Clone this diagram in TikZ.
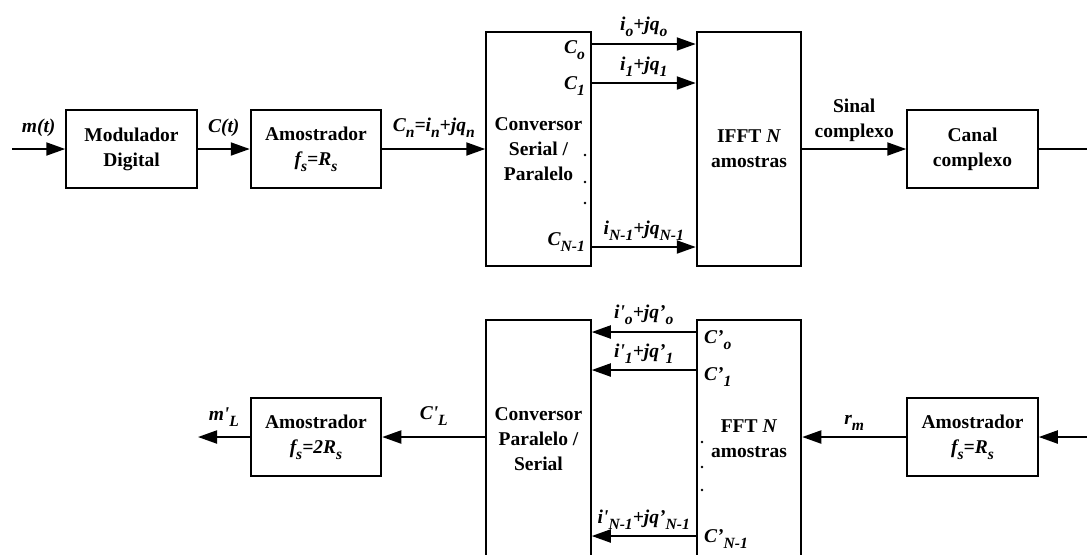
\documentclass[tikz,border=0pt]{standalone}
\usepackage{fontspec}
\setmainfont{Liberation Serif}
\usetikzlibrary{positioning, arrows.meta}
\newcommand{\subx}[1]{\raisebox{-3pt}{\fontsize{7.8}{8}\selectfont #1}}
\newcommand{\prm}{\textquotesingle}

\begin{document}
\begin{tikzpicture}[
    x=0.5pt, y=-0.5pt,
    node distance=26pt,
    font=\bfseries\fontsize{9.75}{12.5}\selectfont,
    block/.style={rectangle, draw=black, line width=1pt, minimum width=65.25pt, minimum height=39pt, align=center, inner sep=2pt},
    tall/.style={block, minimum width=52.25pt, minimum height=117pt},
    sig/.style={font=\bfseries\itshape\fontsize{9.75}{12.5}\selectfont, inner sep=2pt},
    arrow/.style={-{Triangle[length=9.5pt, width=6.5pt]}, line width=1pt},
    wire/.style={line width=1pt}
  ]

  \useasboundingbox (0,0) rectangle (1087,554);
  \clip (0,0) rectangle (1087,554);

  % --- TRANSMISSOR (TOP) ---
  \node[block] (mod_dig) at (131.5,149) {Modulador\\Digital};
  \node[block, right=26pt of mod_dig] (amos_tx) {Amostrador\\\textit{f\subx{s}=R\subx{s}}};
  \node[tall, right=51.5pt of amos_tx] (sp_conv) {Conversor\\Serial /\\Paralelo};
  \node[tall, right=52pt of sp_conv] (ifft) {IFFT \textit{N}\\amostras};
  \node[block, right=52pt of ifft] (canal) {Canal\\complexo};

  \coordinate (in_m) at (12,149);
  \coordinate (out_c) at (1092,149);

  \draw[arrow] (in_m) -- node[sig, above=3.5pt] (lbl_mt) {m(t)} (mod_dig);
  \draw[arrow] (mod_dig) -- node[sig, above=3.5pt] (lbl_ct) {C(t)} (amos_tx);
  \draw[arrow] (amos_tx) -- node[sig, above=3.5pt] (lbl_cn) {C\subx{n}=i\subx{n}+jq\subx{n}} (sp_conv.west |- amos_tx);
  \draw[arrow] (ifft) -- node[above, align=center, inner sep=3pt] (lbl_sc) {Sinal\\complexo} (canal);
  \draw[wire] (canal) -- (out_c);

  % parallel outputs
  \foreach \y/\txt [count=\k] in {44/{i\subx{o}+jq\subx{o}}, 83/{i\subx{1}+jq\subx{1}}, 247/{i\subx{N-1}+jq\subx{N-1}}}
    \draw[arrow] (sp_conv.east |- 0,\y) -- node[sig, above=1pt] (lbl_tx\k) {\txt} (ifft.west |- 0,\y);

  \node[sig, anchor=base east, inner sep=3.25pt] (lbl_co) at (sp_conv.east |- 0,53) {C\subx{o}};
  \node[sig, anchor=base east, inner sep=3.25pt] (lbl_c1) at (sp_conv.east |- 0,89) {C\subx{1}};
  \node[sig, anchor=base east, inner sep=3.25pt] (lbl_cn1) at (sp_conv.east |- 0,245) {C\subx{N-1}};
  \foreach \y in {155,182,203}
    \fill (585,\y) circle (1.4);

  % --- RECEPTOR (BOTTOM) ---
  \node[tall, minimum height=119pt, below=26pt of sp_conv] (ps_conv) {Conversor\\Paralelo /\\Serial};
  \node[tall, minimum height=119pt, right=52pt of ps_conv] (fft) {FFT \textit{N}\\amostras};
  \node[block] (amos_rx) at (canal |- 0,437) {Amostrador\\\textit{f\subx{s}=R\subx{s}}};
  \node[block] (amos_lo) at (amos_tx |- 0,437) {Amostrador\\\textit{f\subx{s}=2R\subx{s}}};

  \coordinate (in_r) at (1092,437);
  \coordinate (out_m) at (198,437);

  \draw[arrow] (in_r) -- (amos_rx);
  \draw[arrow] (amos_rx) -- node[sig, above=1pt] (lbl_rm) {r\subx{m}} (fft.east |- amos_rx);
  \draw[arrow] (ps_conv.west |- amos_lo) -- node[sig, above=3.5pt] (lbl_cl) {C\prm\subx{L}} (amos_lo);
  \draw[arrow] (amos_lo) -- node[sig, above=3pt] (lbl_ml) {m\prm\subx{L}} (out_m);

  % parallel inputs
  \foreach \y/\txt [count=\k] in {332/{i\prm\subx{o}+jq'\subx{o}}, 370/{i\prm\subx{1}+jq'\subx{1}}, 536/{i\prm\subx{N-1}+jq'\subx{N-1}}}
    \draw[arrow] (fft.west |- 0,\y) -- node[sig, above=1pt] (lbl_rx\k) {\txt} (ps_conv.east |- 0,\y);

  \node[sig, anchor=base west, inner sep=4pt] (lbl_dco) at (fft.west |- 0,343) {C'\subx{o}};
  \node[sig, anchor=base west, inner sep=4pt] (lbl_dc1) at (fft.west |- 0,380) {C'\subx{1}};
  \node[sig, anchor=base west, inner sep=4pt] (lbl_dcn1) at (fft.west |- 0,542) {C'\subx{N-1}};
  \foreach \y in {442,467,490}
    \fill (702,\y) circle (1.4);

\end{tikzpicture}
\end{document}
